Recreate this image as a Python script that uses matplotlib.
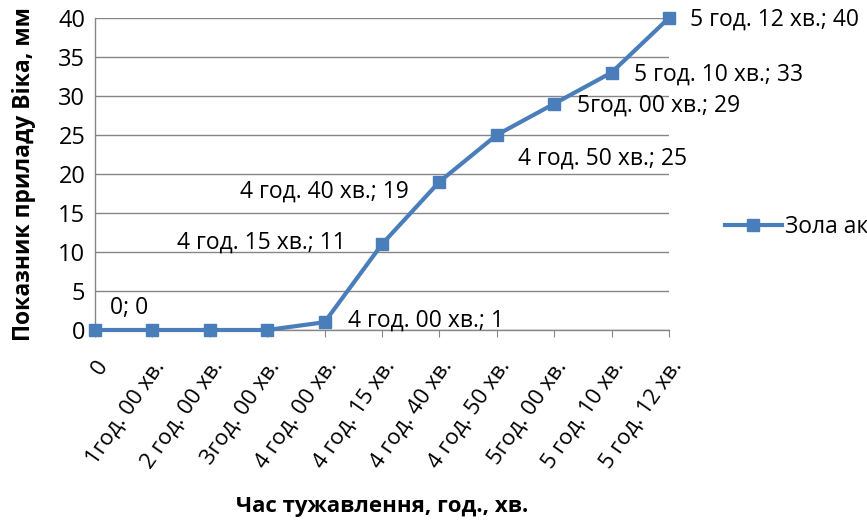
import matplotlib
matplotlib.use("Agg")
from matplotlib import pyplot as plt

plt.rcParams['font.family'] = ['Open Sans', 'DejaVu Sans']

# categories and readings (Vicat apparatus)
cats = ["0", "1год. 00 хв.", "2 год. 00 хв.", "3год. 00 хв.", "4 год. 00 хв.",
        "4 год. 15 хв.", "4 год. 40 хв.", "4 год. 50 хв.", "5год. 00 хв.",
        "5 год. 10 хв.", "5 год. 12 хв."]
vals = [0, 0, 0, 0, 1, 11, 19, 25, 29, 33, 40]
series_name = "Зола акації"

# which points carry a label, and where the label sits (pixels)
label_pts = [0, 4, 5, 6, 7, 8, 9, 10]
label_off = {0: (15, 22, 'left'), 4: (23, 2, 'left'), 5: (-36, 2, 'right'),
             6: (-31, -10, 'right'), 7: (21, -24, 'left'), 8: (23, -2, 'left'),
             9: (22, -2, 'left'), 10: (21, -2, 'left')}

blue = '#4A7EBB'
grey = '#868686'

fig = plt.figure(figsize=(8.67, 5.21), dpi=100)
ax = fig.add_axes([0.1096, 0.3666, 0.662, 0.599])

x = list(range(len(cats)))
ax.plot(x, vals, color=blue, lw=3, marker='s', ms=8.5, label=series_name,
        clip_on=False, zorder=3)

for i in label_pts:
    dx, dy, ha = label_off[i]
    txt = cats[i] + "; " + str(vals[i])
    ax.annotate(txt, (x[i], vals[i]), xytext=(dx * 0.72, dy * 0.72),
                textcoords='offset points', ha=ha, va='center',
                fontsize=16.5, color='black', annotation_clip=False)

ax.set_xlim(0, len(cats) - 1)
ax.set_ylim(0, 40)
ax.set_yticks(range(0, 41, 5))
ax.yaxis.grid(True, color=grey, lw=1)
ax.set_axisbelow(True)
for s in ['top', 'right']:
    ax.spines[s].set_visible(False)
for s in ['left', 'bottom']:
    ax.spines[s].set_color(grey)
    ax.spines[s].set_linewidth(1)

ax.set_xticks(x)
ax.set_xticklabels(cats, rotation=55, ha='right', rotation_mode='anchor')
ax.tick_params(axis='x', length=5, color=grey, labelsize=16, pad=14)
ax.tick_params(axis='y', length=0, labelsize=17, pad=7)

ax.set_ylabel("Показник приладу Віка, мм", fontsize=16.5, fontweight='bold', labelpad=16)
ax.set_xlabel("Час тужавлення, год., хв.", fontsize=16, fontweight='bold', labelpad=17)

# legend runs off the right edge, as in the original
ax.legend(loc='center left', bbox_to_anchor=(1.061, 0.33), frameon=False,
          fontsize=16.5, handlelength=2.5, handletextpad=0.15)

fig.savefig("out.png", dpi=100)
